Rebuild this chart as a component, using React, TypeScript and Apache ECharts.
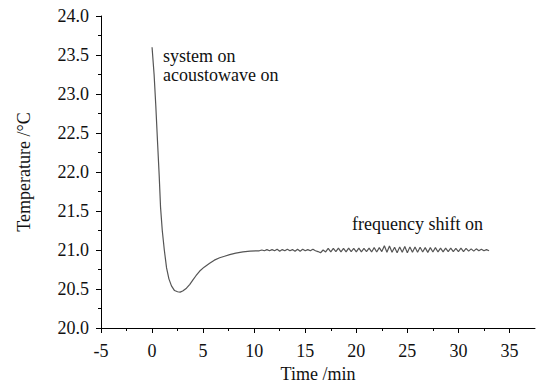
import React, { useEffect, useRef } from "react";
import * as echarts from "echarts";

// Time (min) and temperature (°C)
const timeValues: number[] = [
  0, 0.2, 0.37, 0.55, 0.7, 0.83, 1.0, 1.2, 1.42, 1.65, 1.9, 2.2, 2.5, 2.75, 3.0, 3.37, 3.7, 4.02, 4.3, 4.67,
  5.1, 5.64, 6.1, 6.62, 7.1, 7.6, 8.2, 8.9, 9.6, 10.25,
  10.5, 10.75, 11.0, 11.25, 11.5, 11.75, 12.0, 12.25, 12.5, 12.75, 13.0, 13.25, 13.5, 13.75, 14.0, 14.25,
  14.5, 14.75, 15.0, 15.25, 15.5, 15.75, 16.0, 16.25, 16.5, 16.75, 17.0, 17.25, 17.5, 17.75, 18.0, 18.25,
  18.5, 18.75, 19.0, 19.25, 19.5, 19.75, 20.0, 20.25, 20.5, 20.75, 21.0, 21.25, 21.5, 21.75, 22.0, 22.25,
  22.5, 22.75, 23.0, 23.25, 23.5, 23.75, 24.0, 24.25, 24.5, 24.75, 25.0, 25.25, 25.5, 25.75, 26.0, 26.25,
  26.5, 26.75, 27.0, 27.25, 27.5, 27.75, 28.0, 28.25, 28.5, 28.75, 29.0, 29.25, 29.5, 29.75, 30.0, 30.25,
  30.5, 30.75, 31.0, 31.25, 31.5, 31.75, 32.0, 32.25, 32.5, 32.75, 33.0,
];
const temperatureValues: number[] = [
  23.6, 23.25, 22.84, 22.35, 21.95, 21.55, 21.25, 21.0, 20.77, 20.63, 20.54, 20.48, 20.465, 20.46, 20.475, 20.51, 20.56, 20.62, 20.67, 20.73,
  20.78, 20.83, 20.87, 20.9, 20.92, 20.94, 20.96, 20.975, 20.985, 20.99,
  20.99, 21.0, 20.99, 21.005, 20.99, 21.005, 20.99, 21.01, 20.985, 21.005, 20.99, 21.01, 20.99, 21.005, 20.985, 21.01,
  20.985, 21.01, 20.99, 21.005, 20.99, 21.01, 20.99, 20.98, 20.965, 21.0, 20.975, 21.02, 20.975, 21.02, 20.98, 21.025,
  20.975, 21.02, 20.975, 21.025, 20.98, 21.02, 20.975, 21.025, 20.975, 21.02, 20.98, 21.025, 20.975, 21.03, 20.975, 21.03,
  20.98, 21.055, 20.97, 21.05, 20.97, 21.035, 20.965, 21.04, 20.97, 21.045, 20.965, 21.04, 20.97, 21.04, 20.97, 21.035,
  20.975, 21.03, 20.97, 21.03, 20.975, 21.03, 20.975, 21.025, 20.975, 21.025, 20.98, 21.025, 20.98, 21.02, 20.98, 21.025,
  20.98, 21.02, 20.985, 21.015, 20.985, 21.015, 20.99, 21.01, 20.99, 21.005, 20.99,
];

const xMajorTicks: number[] = [-5, 0, 5, 10, 15, 20, 25, 30, 35];
const xMinorTicks: number[] = [-2.5, 2.5, 7.5, 12.5, 17.5, 22.5, 27.5, 32.5];
const annotations: string[] = ["system on", "acoustowave on", "frequency shift on"];

const FONT = "serif";

export default function App() {
  const ref = useRef<HTMLDivElement>(null);
  useEffect(() => {
    if (!ref.current) return;
    const chart = echarts.init(ref.current, undefined, { renderer: "svg" });
    const data = timeValues.map((t, i) => [t, temperatureValues[i]]);
    const textStyle = { fontFamily: FONT, fontSize: 18, color: "#111" };
    const annStyle = (text: string) => ({
      text,
      font: "18px serif",
      fill: "#111",
      verticalAlign: "middle",
    });
    chart.setOption({
      animation: false,
      backgroundColor: "#fff",
      textStyle: { fontFamily: FONT },
      grid: { left: 101, top: 16, width: 434, height: 313, containLabel: false },
      xAxis: [
        {
          type: "value",
          position: "bottom",
          min: -5,
          max: 37.5,
          name: "Time /min",
          nameLocation: "middle",
          nameGap: 37,
          nameTextStyle: textStyle,
          axisLine: { show: true, onZero: false, lineStyle: { color: "#000", width: 1 } },
          axisTick: { show: true, customValues: xMajorTicks, length: 5, lineStyle: { color: "#000" } },
          axisLabel: { customValues: xMajorTicks, margin: 14, ...textStyle },
          splitLine: { show: false },
        },
        {
          type: "value",
          position: "bottom",
          min: -5,
          max: 37.5,
          axisLine: { show: false, onZero: false },
          axisTick: { show: true, customValues: xMinorTicks, length: 3, lineStyle: { color: "#000" } },
          axisLabel: { show: false },
          splitLine: { show: false },
        },
      ],
      yAxis: {
        type: "value",
        min: 20,
        max: 24,
        interval: 0.5,
        name: "Temperature /°C",
        nameLocation: "middle",
        nameGap: 68,
        nameTextStyle: textStyle,
        axisLine: { show: true, onZero: false, lineStyle: { color: "#000", width: 1 } },
        axisTick: { show: true, length: 5, lineStyle: { color: "#000" } },
        minorTick: { show: true, splitNumber: 2, length: 3, lineStyle: { color: "#000" } },
        axisLabel: { margin: 12, formatter: (v: number) => v.toFixed(1), ...textStyle },
        splitLine: { show: false },
      },
      series: [
        {
          type: "line",
          xAxisIndex: 0,
          data,
          showSymbol: false,
          symbol: "none",
          lineStyle: { color: "#555", width: 1.2 },
        },
      ],
      graphic: [
        { type: "text", x: 163, y: 56, style: annStyle(annotations[0]) },
        { type: "text", x: 163, y: 75, style: annStyle(annotations[1]) },
        { type: "text", x: 352, y: 224, style: annStyle(annotations[2]) },
      ],
    });
    return () => chart.dispose();
  }, []);
  return <div ref={ref} style={{ width: 538, height: 388, position: "absolute", left: 0, top: 0 }} />;
}
